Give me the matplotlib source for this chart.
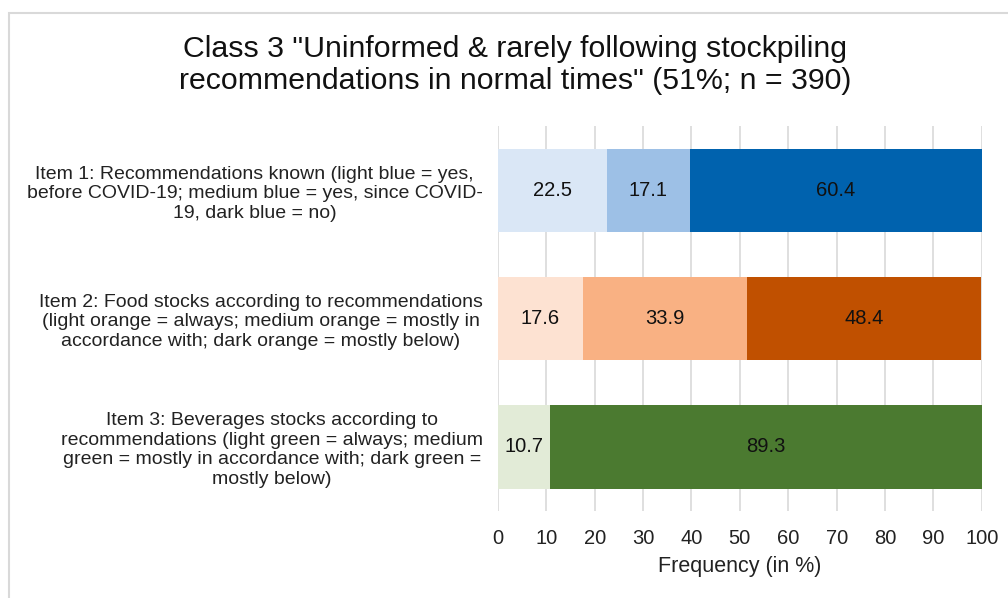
import matplotlib.pyplot as plt
from matplotlib.patches import Rectangle

plt.rcParams['font.family'] = ['Liberation Sans', 'DejaVu Sans']

# Data
items = [
    "Item 1: Recommendations known (light blue = yes,\nbefore COVID-19; medium blue = yes, since COVID-\n19, dark blue = no)",
    "Item 2: Food stocks according to recommendations\n(light orange = always; medium orange = mostly in\naccordance with; dark orange = mostly below)",
    "Item 3: Beverages stocks according to\nrecommendations (light green = always; medium\ngreen = mostly in accordance with; dark green =\nmostly below)",
]
light = [22.5, 17.6, 10.7]
medium = [17.1, 33.9, 0.0]
dark = [60.4, 48.4, 89.3]

light_colors = ['#DAE7F6', '#FDE2D2', '#E2EBD7']
medium_colors = ['#9DC0E6', '#F9B183', '#A9D18E']
dark_colors = ['#0062AE', '#C05000', '#4B7A30']

fig = plt.figure(figsize=(10.08, 5.98), dpi=100)
ax = fig.add_axes([0.494, 0.1455, 0.480, 0.6435])

# outer chart frame
fig.patches.append(Rectangle((9 / 1008, -0.1), 1.2, 1 - 13 / 598 + 0.1,
                             transform=fig.transFigure, fill=False,
                             edgecolor='#D9D9D9', linewidth=1.5))

y = list(range(len(items)))
h = 0.65
for i in y:
    segs = [(light[i], light_colors[i]), (medium[i], medium_colors[i]), (dark[i], dark_colors[i])]
    left = 0
    for val, col in segs:
        if val > 0:
            ax.barh(i, val, left=left, height=h, color=col, zorder=3)
            ax.text(left + val / 2, i, f"{val:.1f}", ha='center', va='center',
                    fontsize=14.5, color='#111111', zorder=4)
        left += val

ax.set_xlim(0, 100)
ax.set_ylim(len(items) - 0.5, -0.5)
ax.set_xticks(range(0, 101, 10))
ax.set_yticks(y)
ax.set_yticklabels(items, multialignment='center', fontsize=14, linespacing=1.2)
ax.tick_params(axis='both', length=0, colors='#222222')
ax.tick_params(axis='x', labelsize=14.5, pad=13)
ax.tick_params(axis='y', pad=11)
ax.grid(axis='x', color='#D9D9D9', linewidth=1.2, zorder=0)
for s in ax.spines.values():
    s.set_visible(False)
ax.set_xlabel('Frequency (in %)', fontsize=15.5, labelpad=6, color='#222222')

fig.text(0.511, 0.891, 'Class 3 "Uninformed & rarely following stockpiling\nrecommendations in normal times" (51%; n = 390)',
         ha='center', va='center', fontsize=21.8, color='#111111', linespacing=1.2)

fig.savefig('out.png', dpi=100, facecolor='white')
